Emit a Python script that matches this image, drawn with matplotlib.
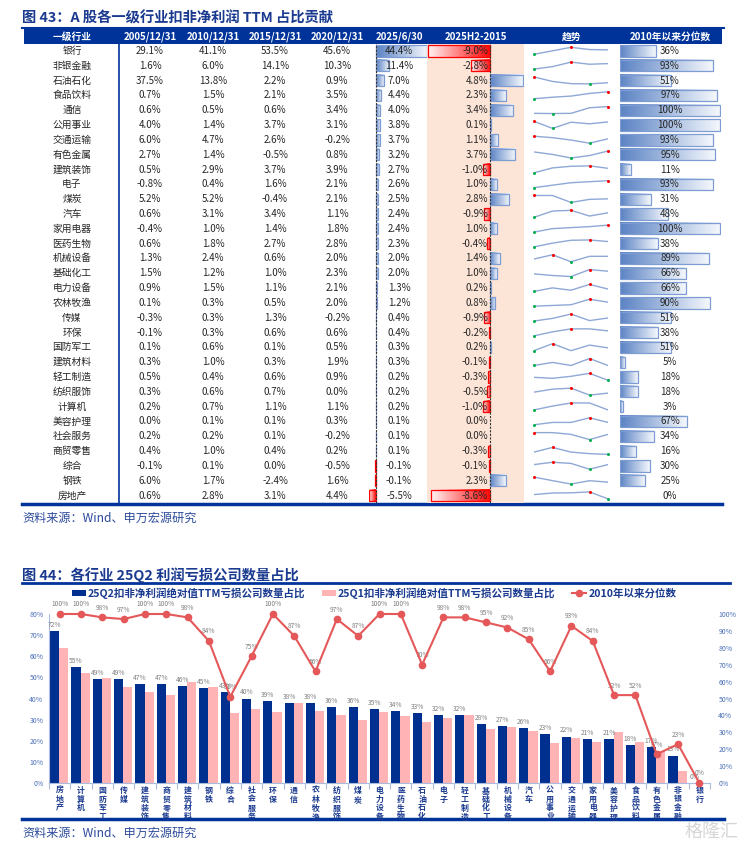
import numpy as np
import matplotlib
matplotlib.use('Agg')
import matplotlib.pyplot as plt
from matplotlib.patches import Rectangle, Patch
from matplotlib.lines import Line2D
from matplotlib.colors import LinearSegmentedColormap

plt.rcParams['font.family'] = ['Noto Sans CJK SC', 'DejaVu Sans']

# ---- table data (fig 43) ----
names = ['银行', '非银金融', '石油石化', '食品饮料', '通信', '公用事业', '交通运输', '有色金属',
         '建筑装饰', '电子', '煤炭', '汽车', '家用电器', '医药生物', '机械设备', '基础化工',
         '电力设备', '农林牧渔', '传媒', '环保', '国防军工', '建筑材料', '轻工制造', '纺织服饰',
         '计算机', '美容护理', '社会服务', '商贸零售', '综合', '钢铁', '房地产']
v2005 = [29.1, 1.6, 37.5, 0.7, 0.6, 4.0, 6.0, 2.7, 0.5, -0.8, 5.2, 0.6, -0.4, 0.6, 1.3, 1.5,
         0.9, 0.1, -0.3, -0.1, 0.1, 0.3, 0.5, 0.3, 0.2, 0.0, 0.2, 0.4, -0.1, 6.0, 0.6]
v2010 = [41.1, 6.0, 13.8, 1.5, 0.5, 1.4, 4.7, 1.4, 2.9, 0.4, 5.2, 3.1, 1.0, 1.8, 2.4, 1.2,
         1.5, 0.3, 0.3, 0.3, 0.6, 1.0, 0.4, 0.6, 0.7, 0.1, 0.2, 1.0, 0.1, 1.7, 2.8]
v2015 = [53.5, 14.1, 2.2, 2.1, 0.6, 3.7, 2.6, -0.5, 3.7, 1.6, -0.4, 3.4, 1.4, 2.7, 0.6, 1.0,
         1.1, 0.5, 1.3, 0.6, 0.1, 0.3, 0.6, 0.7, 1.1, 0.1, 0.1, 0.4, 0.0, -2.4, 3.1]
v2020 = [45.6, 10.3, 0.9, 3.5, 3.4, 3.1, -0.2, 0.8, 3.9, 2.1, 2.1, 1.1, 1.8, 2.8, 2.0, 2.3,
         2.1, 2.0, -0.2, 0.6, 0.5, 1.9, 0.9, 0.0, 1.1, 0.3, -0.2, 0.2, -0.5, 1.6, 4.4]
v2025 = [44.4, 11.4, 7.0, 4.4, 4.0, 3.8, 3.7, 3.2, 2.7, 2.6, 2.5, 2.4, 2.4, 2.3, 2.0, 2.0,
         1.3, 1.2, 0.4, 0.4, 0.3, 0.3, 0.2, 0.2, 0.2, 0.1, 0.1, 0.1, -0.1, -0.1, -5.5]
chg = [-9.0, -2.8, 4.8, 2.3, 3.4, 0.1, 1.1, 3.7, -1.0, 1.0, 2.8, -0.9, 1.0, -0.4, 1.4, 1.0,
       0.2, 0.8, -0.9, -0.2, 0.2, -0.1, -0.3, -0.5, -1.0, 0.0, 0.0, -0.3, -0.1, 2.3, -8.6]
pct = [36, 93, 51, 97, 100, 100, 93, 95, 11, 93, 31, 48, 100, 38, 89, 66,
       66, 90, 51, 38, 51, 5, 18, 18, 3, 67, 34, 16, 30, 25, 0]
headers = ['一级行业', '2005/12/31', '2010/12/31', '2015/12/31', '2020/12/31',
           '2025/6/30', '2025H2-2015', '趋势', '2010年以来分位数']

# ---- bar chart data (fig 44) ----
inds = ['房地产', '计算机', '国防军工', '传媒', '建筑装饰', '商贸零售', '建筑材料', '钢铁',
        '综合', '社会服务', '环保', '通信', '农林牧渔', '纺织服饰', '煤炭', '电力设备',
        '医药生物', '石油石化', '电子', '轻工制造', '基础化工', '机械设备', '汽车', '公用事业',
        '交通运输', '家用电器', '美容护理', '食品饮料', '有色金属', '非银金融', '银行']
q2 = [72, 55, 49, 49, 47, 47, 46, 45, 43, 40, 39, 38, 38, 36, 36, 35, 34, 33, 32, 32,
      28, 27, 26, 23, 22, 21, 21, 18, 17, 13, 0]
q1 = [63.7, 52.3, 49.5, 45.3, 43.3, 41.5, 47.9, 45.5, 33.2, 35.0, 33.5, 37.8, 34.3, 32.4,
      29.7, 33.6, 31.7, 29.0, 30.8, 32.3, 25.6, 26.7, 24.6, 19.1, 21.1, 19.2, 24.1, 19.4,
      15.0, 5.8, 0]
pctl = [100, 100, 98, 97, 100, 100, 98, 84, 51, 75, 100, 87, 66, 97, 87, 100, 100, 70,
        98, 98, 95, 92, 85, 66, 93, 84, 52, 52, 17, 23, 0]
leg_labels = ['25Q2扣非净利润绝对值TTM亏损公司数量占比', '25Q1扣非净利润绝对值TTM亏损公司数量占比',
              '2010年以来分位数']

NAVY = '#00339A'
TITLE = '#1A3A8F'
W, H = 744, 849
fig = plt.figure(figsize=(W / 100, H / 100), dpi=100)


def fax(x0, y0, x1, y1, **kw):
    # axes from a pixel box, top-left origin
    return fig.add_axes([x0 / W, 1 - y1 / H, (x1 - x0) / W, (y1 - y0) / H], **kw)


bg = fax(0, 0, W, H)
bg.set_xlim(0, W)
bg.set_ylim(H, 0)
bg.axis('off')

# ---------------- figure 43 : table ----------------
bg.text(22, 18, '图 43：A 股各一级行业扣非净利润 TTM 占比贡献', fontsize=10.3, weight='bold',
        color=TITLE, va='center', ha='left')
bg.add_patch(Rectangle((24, 28), 698, 16, fc=NAVY, ec='none'))
bg.plot([22, 724], [28, 28], color=NAVY, lw=1.5)
hx = [72, 150, 213, 275, 337, 399, 476, 572, 670]
for x, t in zip(hx, headers):
    bg.text(x, 36.5, t, color='white', weight='bold', fontsize=7, ha='center', va='center')

y0, dy = 51.0, 14.82
n = len(names)
btop, bbot = y0 - dy / 2, y0 + (n - 0.5) * dy

b1 = fax(369, btop, 427, bbot)
b2 = fax(427, btop, 524, bbot, facecolor='#FCE4D6')
sp = fax(534, btop, 608, bbot)
b3 = fax(620, btop, 721, bbot)
tb = fax(22, btop, 724, bbot)
for a in (b1, b2, sp, b3):
    for s in a.spines.values():
        s.set_visible(False)
    a.set_xticks([])
    a.set_yticks([])
    if a is not b2:
        a.patch.set_alpha(0)

blue_cm = LinearSegmentedColormap.from_list('bl', ['#5B83C4', '#F4F7FC'])
red_cm = LinearSegmentedColormap.from_list('rd', ['#FF0A0A', '#FFF2F2'])
grad = np.linspace(0, 1, 64).reshape(1, -1)


def gbar(ax, i, v, h=0.76):
    if v == 0:
        return
    cm = blue_cm if v > 0 else red_cm
    ec = '#7D9CD3' if v > 0 else '#FF0000'
    g = grad if v > 0 else grad[:, ::-1]
    xa, xb = min(0, v), max(0, v)
    ax.imshow(g, cmap=cm, extent=(xa, xb, i + h / 2, i - h / 2), aspect='auto',
              interpolation='bilinear', zorder=2)
    ax.add_patch(Rectangle((xa, i - h / 2), xb - xa, h, fill=False, ec=ec, lw=0.9, zorder=3))


for i in range(n):
    gbar(b1, i, v2025[i])
    gbar(b2, i, chg[i])
    gbar(b3, i, pct[i])
for a in (b1, b2):
    a.axvline(0, color='#333333', lw=0.8, ls=(0, (2, 1.2)), zorder=4)
b1.set_xlim(-(375.5 - 369) / 1.15, (427 - 375.5) / 1.15)
b2.set_xlim(-(490 - 427) / 6.85, (524 - 490) / 6.85)
b3.set_xlim(0, 101)

spark = np.array([v2005, v2010, v2015, v2020, v2025]).T
for i, row in enumerate(spark):
    lo, hi = row.min(), row.max()
    ys = i + 0.22 - 0.47 * (row - lo) / (hi - lo)
    sp.plot(range(5), ys, color='#8FA8D6', lw=1.0)
    k = int(np.argmax(row))
    sp.plot(k, ys[k], 'o', color='#FF0000', ms=2.2, mec='none', clip_on=False)
    k = int(np.argmin(row))
    sp.plot(k, ys[k], 'o', color='#00B050', ms=2.2, mec='none', clip_on=False)
sp.set_xlim(0, 4)

tb.axis('off')
tb.set_xlim(22, 724)
cols = [v2005, v2010, v2015, v2020]
for i in range(n):
    tb.text(72, i, names[i], ha='center', va='center', fontsize=7, color='#262626')
    for x, c in zip(hx[1:5], cols):
        tb.text(x, i, f'{c[i]:.1f}%', ha='center', va='center', fontsize=7, color='#262626')
    tb.text(399, i, f'{v2025[i]:.1f}%', ha='center', va='center', fontsize=7, color='#262626')
    tb.text(488, i, f'{chg[i]:.1f}%', ha='right', va='center', fontsize=7, color='#262626')
    tb.text(670, i, f'{pct[i]:.0f}%', ha='center', va='center', fontsize=7, color='#262626')
tb.plot([119, 119], [-0.5, n - 0.5], color=NAVY, lw=1.2)
for a in (b1, b2, sp, b3, tb):
    a.set_ylim(n - 0.5, -0.5)

bg.plot([22, 722], [504, 504], color=NAVY, lw=2.5)
bg.text(22, 518, '资料来源：Wind、申万宏源研究', fontsize=8.7, color='#2B4A9B', va='center')

# ---------------- figure 44 : bar + line ----------------
bg.text(22, 575, '图 44：各行业 25Q2 利润亏损公司数量占比', fontsize=10.3, weight='bold',
        color=TITLE, va='center', ha='left')
bg.plot([22, 730], [583, 583], color=NAVY, lw=2)

BLUE = '#00308F'
PINK = '#FFB3B5'
RED = '#E5585A'
SPINE = '#A9BCE0'
TICKC = '#4A6FB8'

ax = fax(49, 614, 710, 783)
x = np.arange(len(inds))
ax.bar(x - 0.235, q2, width=0.43, color=BLUE, zorder=2)
ax.bar(x + 0.195, q1, width=0.43, color=PINK, zorder=2)
for xi, v in zip(x, q2):
    ax.annotate(f'{v}%', (xi - 0.235, v), xytext=(0, 1.5), textcoords='offset points',
                ha='center', va='bottom', fontsize=4.8, color='#808080')
ax.set_ylim(0, 80)
ax.set_xlim(-0.5, len(inds) - 0.5)
ax.set_yticks(range(0, 81, 10))
ax.set_yticklabels([f'{t}%' for t in range(0, 81, 10)])
ax.set_xticks(x)
ax.set_xticklabels(['\n'.join(s) for s in inds], fontsize=5.7, weight='bold',
                   color=TITLE, linespacing=0.98)
ax.set_xticks(np.arange(-0.5, len(inds)), minor=True)
ax.tick_params(axis='x', which='major', length=0, pad=2)
ax.tick_params(axis='x', which='minor', length=4, color=SPINE, width=0.8)
ax.tick_params(axis='y', length=0, labelsize=5, labelcolor=TICKC, pad=4)
for s in ('top', 'right'):
    ax.spines[s].set_visible(False)
ax.spines['left'].set_color(SPINE)
ax.spines['bottom'].set_color(SPINE)

ax2 = ax.twinx()
ax2.plot(x, pctl, color=RED, lw=1.5, marker='o', ms=4.5, zorder=5, clip_on=False)
for xi, v in zip(x, pctl):
    ax2.annotate(f'{v}%', (xi, v), xytext=(0, 4), textcoords='offset points',
                 ha='center', va='bottom', fontsize=4.8, color='#808080')
ax2.set_ylim(0, 100)
ax2.set_yticks(range(0, 101, 10))
ax2.set_yticklabels([f'{t}%' for t in range(0, 101, 10)])
ax2.tick_params(axis='y', length=0, labelsize=5, labelcolor=TICKC, pad=6)
for s in ax2.spines.values():
    s.set_visible(False)

handles = [Patch(fc=BLUE), Patch(fc=PINK),
           Line2D([], [], color=RED, lw=1.5, marker='o', ms=4.5)]
fig.legend(handles, leg_labels, loc='center', bbox_to_anchor=(374 / W, 1 - 593 / H), ncol=3,
           frameon=False, handlelength=1.3, handleheight=0.6, handletextpad=0.2,
           columnspacing=1.6, labelcolor=TITLE, prop={'weight': 'bold', 'size': 7.6})

bg.plot([22, 724], [819, 819], color=NAVY, lw=2.5)
bg.text(22, 833, '资料来源：Wind、申万宏源研究', fontsize=8.7, color='#2B4A9B', va='center')
bg.text(712, 832, '格隆汇', fontsize=13, color='#D6D6D6', ha='center', va='center')

fig.savefig('out.png', dpi=100)
